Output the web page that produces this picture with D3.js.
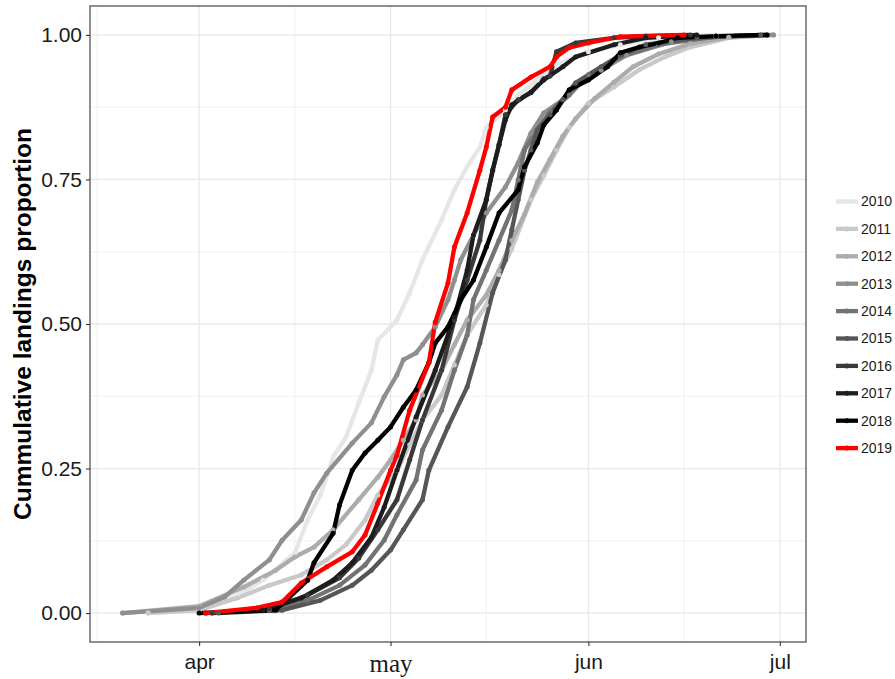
<!DOCTYPE html>
<html>
<head>
<meta charset="utf-8">
<script src="https://cdn.jsdelivr.net/npm/d3@7"></script>
<style>
  body { margin: 0; background: #fff; }
</style>
</head>
<body>
<div id="chart"></div>
<script>
"use strict";

// Years shown in the legend, drawn in this order (2019 last, on top)
const years = ["2010", "2011", "2012", "2013", "2014", "2015", "2016", "2017", "2018", "2019"];
const yearColors = ["#e6e6e6", "#c9c9c9", "#acacac", "#8f8f8f", "#737373",
                    "#565656", "#393939", "#1d1d1d", "#000000", "#ff0000"];

// Cumulative landings proportion by day (month-day)
const series2010 = [["03-24",0],["04-01",0.005],["04-07",0.031],["04-11",0.057],["04-16",0.104],["04-18",0.161],["04-20",0.204],["04-22",0.270],["04-24",0.304],["04-26",0.363],["04-28",0.420],["04-29",0.472],["05-02",0.507],["05-04",0.554],["05-06",0.611],["05-09",0.680],["05-11",0.732],["05-13",0.772],["05-15",0.806],["05-16",0.840],["05-19",0.870],["05-21",0.896],["05-24",0.922],["05-27",0.948],["06-01",0.971],["06-06",0.983],["06-12",0.995],["06-21",1.0]];
const series2011 = [["03-24",0],["04-01",0.005],["04-07",0.026],["04-12",0.048],["04-17",0.066],["04-21",0.092],["04-24",0.118],["04-27",0.161],["04-29",0.204],["05-02",0.247],["05-04",0.291],["05-06",0.334],["05-09",0.377],["05-11",0.429],["05-13",0.481],["05-16",0.533],["05-18",0.585],["05-20",0.630],["05-23",0.715],["05-25",0.757],["05-27",0.800],["05-29",0.840],["06-01",0.882],["06-05",0.910],["06-09",0.940],["06-13",0.962],["06-17",0.979],["06-23",0.995],["06-30",1.0]];
const series2012 = [["03-20",0],["04-01",0.012],["04-08",0.045],["04-13",0.074],["04-16",0.097],["04-19",0.114],["04-22",0.144],["04-26",0.196],["04-29",0.235],["05-01",0.265],["05-03",0.299],["05-05",0.334],["05-06",0.377],["05-09",0.420],["05-11",0.464],["05-13",0.507],["05-16",0.550],["05-18",0.593],["05-20",0.645],["05-22",0.690],["05-24",0.745],["05-26",0.785],["05-28",0.825],["05-30",0.855],["06-02",0.890],["06-05",0.918],["06-08",0.945],["06-12",0.967],["06-17",0.985],["06-23",0.996],["06-30",1.0]];
const series2013 = [["03-20",0],["04-01",0.009],["04-05",0.028],["04-08",0.057],["04-12",0.092],["04-14",0.126],["04-17",0.161],["04-19",0.208],["04-21",0.242],["04-25",0.294],["04-28",0.329],["04-30",0.374],["05-02",0.412],["05-03",0.438],["05-05",0.450],["05-06",0.464],["05-08",0.495],["05-10",0.542],["05-11",0.576],["05-12",0.611],["05-14",0.654],["05-16",0.692],["05-19",0.737],["05-21",0.779],["05-23",0.830],["05-25",0.865],["05-28",0.888],["05-30",0.917],["06-03",0.939],["06-07",0.965],["06-14",0.988],["06-21",0.997],["06-30",1.0]];
const series2014 = [["04-03",0],["04-12",0.005],["04-18",0.022],["04-23",0.048],["04-27",0.083],["04-30",0.126],["05-02",0.170],["05-05",0.230],["05-06",0.282],["05-09",0.351],["05-11",0.420],["05-13",0.481],["05-14",0.542],["05-16",0.593],["05-18",0.645],["05-20",0.697],["05-21",0.749],["05-22",0.801],["05-24",0.836],["05-26",0.867],["05-29",0.896],["06-01",0.931],["06-06",0.962],["06-12",0.983],["06-21",0.997],["06-29",1.0]];
const series2015 = [["04-04",0],["04-14",0.005],["04-20",0.022],["04-25",0.048],["04-28",0.074],["05-01",0.109],["05-03",0.144],["05-06",0.196],["05-07",0.247],["05-10",0.322],["05-13",0.391],["05-15",0.467],["05-17",0.554],["05-19",0.611],["05-20",0.663],["05-21",0.715],["05-22",0.766],["05-23",0.801],["05-24",0.836],["05-26",0.862],["05-28",0.888],["05-30",0.917],["06-03",0.945],["06-06",0.965],["06-10",0.983],["06-18",0.995],["06-28",1.0]];
const series2016 = [["04-03",0],["04-12",0.007],["04-18",0.031],["04-23",0.061],["04-26",0.095],["04-29",0.144],["05-02",0.196],["05-04",0.265],["05-06",0.334],["05-09",0.420],["05-11",0.507],["05-13",0.576],["05-15",0.645],["05-16",0.715],["05-17",0.766],["05-18",0.810],["05-19",0.862],["05-21",0.888],["05-23",0.900],["05-25",0.924],["05-26",0.929],["05-27",0.971],["05-30",0.986],["06-05",0.995],["06-10",0.998],["06-17",1.0]];
const series2017 = [["04-02",0],["04-11",0.005],["04-17",0.026],["04-22",0.057],["04-25",0.087],["04-28",0.131],["04-30",0.183],["05-02",0.247],["05-05",0.339],["05-08",0.420],["05-11",0.512],["05-13",0.593],["05-14",0.654],["05-16",0.715],["05-17",0.766],["05-18",0.810],["05-19",0.853],["05-20",0.879],["05-23",0.901],["05-25",0.922],["05-28",0.945],["05-30",0.962],["06-05",0.983],["06-10",0.995],["06-18",1.0]];
const series2018 = [["04-01",0],["04-13",0.005],["04-18",0.057],["04-19",0.087],["04-22",0.138],["04-23",0.187],["04-25",0.247],["04-27",0.277],["04-29",0.299],["05-01",0.322],["05-03",0.356],["05-05",0.386],["05-07",0.433],["05-08",0.467],["05-10",0.495],["05-12",0.542],["05-14",0.576],["05-16",0.633],["05-18",0.692],["05-21",0.732],["05-22",0.772],["05-24",0.813],["05-25",0.844],["05-27",0.870],["05-29",0.905],["06-01",0.922],["06-04",0.945],["06-06",0.969],["06-09",0.979],["06-12",0.986],["06-15",0.995],["06-21",0.998],["06-29",1.0]];
const series2019 = [["04-02",0],["04-10",0.009],["04-14",0.019],["04-17",0.052],["04-21",0.080],["04-25",0.106],["04-27",0.135],["04-29",0.190],["05-01",0.247],["05-02",0.273],["05-04",0.351],["05-07",0.433],["05-08",0.503],["05-10",0.571],["05-11",0.633],["05-13",0.692],["05-15",0.766],["05-16",0.806],["05-17",0.858],["05-19",0.875],["05-20",0.905],["05-23",0.927],["05-26",0.945],["05-27",0.962],["05-29",0.978],["06-01",0.986],["06-06",0.997],["06-16",1.0]];

const allSeries = [series2010, series2011, series2012, series2013, series2014,
                   series2015, series2016, series2017, series2018, series2019];

// Axis ticks
const yTicks = [0, 0.25, 0.5, 0.75, 1];
const yMinorTicks = [0.125, 0.375, 0.625, 0.875];
const xTickDays = ["04-01", "05-01", "06-01", "07-01"];
const xTickLabels = ["apr", "may", "jun", "jul"];
const xMinorDays = ["03-16", "04-16", "05-16", "06-16"];
const yLabel = "Cummulative landings proportion";

const sansFont = "'Liberation Sans', Arial, sans-serif";
const serifFont = "'Liberation Serif', 'Times New Roman', serif";

const parseDay = d3.timeParse("%Y-%m-%d");
const toDate = md => parseDay("2019-" + md);

const data = years.map((year, i) => ({
  year,
  color: yearColors[i],
  values: allSeries[i].map(([md, v]) => ({ date: toDate(md), value: v }))
}));

// Dimensions
const width = 895;
const height = 679;
const panel = { left: 90, top: 6, right: 806, bottom: 642 };

const svg = d3.select("#chart")
  .append("svg")
    .attr("width", width)
    .attr("height", height)
    .style("font-family", sansFont);

// Scales, with ggplot-like 5% expansion
const allPoints = data.flatMap(d => d.values);
const [minDate, maxDate] = d3.extent(allPoints, d => d.date);
const span = maxDate - minDate;
const xScale = d3.scaleTime()
  .domain([new Date(+minDate - span * 0.05), new Date(+maxDate + span * 0.05)])
  .range([panel.left, panel.right]);

const yScale = d3.scaleLinear()
  .domain([-0.05, 1.05])
  .range([panel.bottom, panel.top]);

// Grid
const grid = svg.append("g");
grid.selectAll("line.minor-x")
  .data(xMinorDays.map(toDate))
  .join("line")
    .attr("x1", d => xScale(d)).attr("x2", d => xScale(d))
    .attr("y1", panel.top).attr("y2", panel.bottom)
    .attr("stroke", "#ececec").attr("stroke-width", 0.8);
grid.selectAll("line.minor-y")
  .data(yMinorTicks)
  .join("line")
    .attr("x1", panel.left).attr("x2", panel.right)
    .attr("y1", d => yScale(d)).attr("y2", d => yScale(d))
    .attr("stroke", "#ececec").attr("stroke-width", 0.8);
grid.selectAll("line.major-x")
  .data(xTickDays.map(toDate))
  .join("line")
    .attr("x1", d => xScale(d)).attr("x2", d => xScale(d))
    .attr("y1", panel.top).attr("y2", panel.bottom)
    .attr("stroke", "#e8e8e8").attr("stroke-width", 1.3);
grid.selectAll("line.major-y")
  .data(yTicks)
  .join("line")
    .attr("x1", panel.left).attr("x2", panel.right)
    .attr("y1", d => yScale(d)).attr("y2", d => yScale(d))
    .attr("stroke", "#e8e8e8").attr("stroke-width", 1.3);

// Lines, then points
const lineGenerator = d3.line()
  .x(d => xScale(d.date))
  .y(d => yScale(d.value));

svg.append("g")
  .selectAll("path")
  .data(data)
  .join("path")
    .attr("d", d => lineGenerator(d.values))
    .attr("fill", "none")
    .attr("stroke", d => d.color)
    .attr("stroke-width", 4.3)
    .attr("stroke-linejoin", "round");

svg.append("g")
  .selectAll("g")
  .data(data)
  .join("g")
    .attr("fill", d => d.color)
  .selectAll("circle")
  .data(d => d.values)
  .join("circle")
    .attr("cx", d => xScale(d.date))
    .attr("cy", d => yScale(d.value))
    .attr("r", 2.5);

// Panel border
svg.append("rect")
  .attr("x", panel.left).attr("y", panel.top)
  .attr("width", panel.right - panel.left)
  .attr("height", panel.bottom - panel.top)
  .attr("fill", "none")
  .attr("stroke", "#333")
  .attr("stroke-width", 1.1);

// Axes
const yAxis = d3.axisLeft(yScale)
  .tickValues(yTicks)
  .tickFormat(d3.format(".2f"))
  .tickSize(4)
  .tickPadding(4);

const xAxis = d3.axisBottom(xScale)
  .tickValues(xTickDays.map(toDate))
  .tickFormat((d, i) => xTickLabels[i])
  .tickSize(4)
  .tickPadding(8);

const yAxisG = svg.append("g")
  .attr("transform", `translate(${panel.left}, 0)`)
  .call(yAxis);
const xAxisG = svg.append("g")
  .attr("transform", `translate(0, ${panel.bottom})`)
  .call(xAxis);

[yAxisG, xAxisG].forEach(g => {
  g.attr("font-family", null).attr("font-size", null);
  g.select(".domain").remove();
  g.selectAll(".tick line").attr("stroke", "#333").attr("stroke-width", 1.1);
  g.selectAll(".tick text")
    .attr("fill", "#1a1a1a")
    .style("font-family", sansFont)
    .style("font-size", "21px");
});

// "may" is set in a serif face in the original
xAxisG.selectAll(".tick text")
  .filter(function() { return this.textContent === "may"; })
  .style("font-family", serifFont)
  .style("font-size", "25px");

// Y axis title
svg.append("text")
  .attr("transform", `translate(31, ${(panel.top + panel.bottom) / 2}) rotate(-90)`)
  .attr("text-anchor", "middle")
  .style("font-family", sansFont)
  .style("font-size", "24.5px")
  .style("font-weight", "bold")
  .attr("fill", "#000")
  .text(yLabel);

// Legend
const legend = svg.append("g")
  .selectAll("g")
  .data(data)
  .join("g")
    .attr("transform", (d, i) => `translate(836, ${201.5 + i * 27.4})`);

legend.append("line")
  .attr("x1", 0).attr("x2", 22)
  .attr("stroke", d => d.color)
  .attr("stroke-width", 4.3);

legend.append("circle")
  .attr("cx", 11)
  .attr("r", 2.5)
  .attr("fill", d => d.color);

legend.append("text")
  .attr("x", 25)
  .attr("dy", "0.35em")
  .style("font-family", sansFont)
  .style("font-size", "14px")
  .attr("fill", "#1a1a1a")
  .text(d => d.year);
</script>
</body>
</html>
